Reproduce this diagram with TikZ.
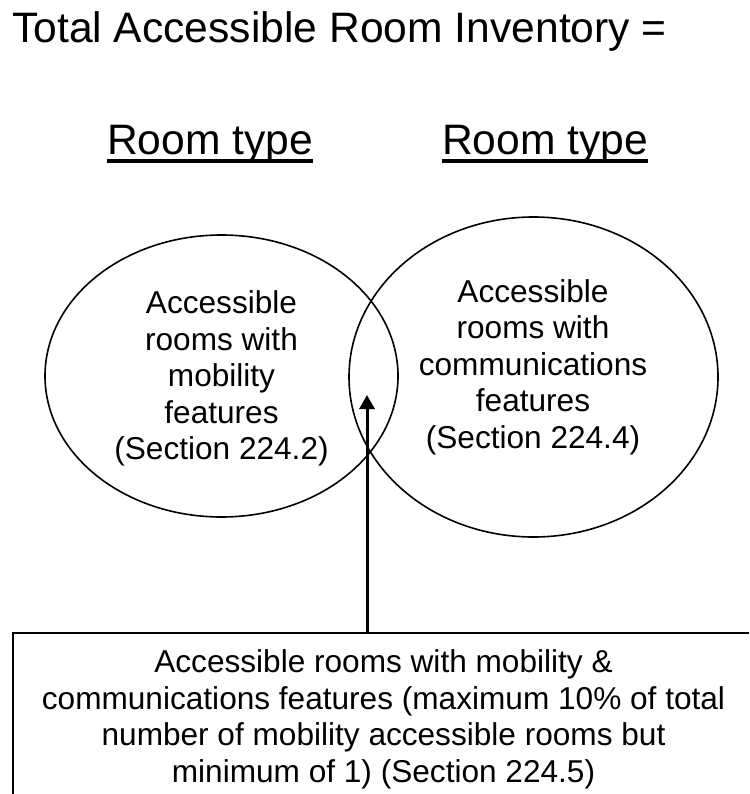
\documentclass[tikz,border=0pt]{standalone}
\usepackage{fontspec}
\setmainfont{Liberation Sans}
\usetikzlibrary{arrows.meta,shapes.geometric}

\tikzset{
  roomset/.style={draw,ellipse,line width=1.6pt,inner sep=0pt},
  settext/.style={align=center,inner sep=0pt,font=\fontsize{31.6}{36.5}\selectfont},
  heading/.style={inner sep=0pt,anchor=base west,font=\fontsize{42.6}{48}\selectfont},
  ruleline/.style={line width=3.3pt},
  pointer/.style={line width=3pt,-{Triangle[length=14pt,width=15pt]}},
}

\begin{document}
\begin{tikzpicture}[x=1pt,y=-1pt]
  \useasboundingbox (0,0) rectangle (749,794);
  \clip (0,0) rectangle (749,794);

  \node[heading] (total) at (12,43) {Total Accessible Room Inventory =};
  \node[heading] (typea) at (107,155) {Room type};
  \node[heading] (typeb) at (442,155) {Room type};
  \draw[ruleline] ([yshift=-6pt]typea.base west) -- ([yshift=-6pt]typea.base east);
  \draw[ruleline] ([yshift=-6pt]typeb.base west) -- ([yshift=-6pt]typeb.base east);

  % the two sets of rooms
  \node[roomset,minimum width=353pt,minimum height=282pt] (mob) at (221.5,376) {};
  \node[roomset,minimum width=369pt,minimum height=320pt] (com) at (533.5,377) {};
  \node[settext] (mobtext) at (221.5,378.5) {Accessible\\rooms with\\mobility\\features\\(Section 224.2)};
  \node[settext] (comtext) at (533,367) {Accessible\\rooms with\\communications\\features\\(Section 224.4)};

  \node[settext,draw,line width=2pt,anchor=north,minimum width=741pt,inner ysep=17pt] (both) at (383.5,632)
    {Accessible rooms with mobility \&\\communications features (maximum 10\% of total\\number of mobility accessible rooms but\\minimum of 1) (Section 224.5)};

  \coordinate (tip) at (367,395);
  \draw[pointer] (tip |- both.north) -- (tip);
\end{tikzpicture}
\end{document}
